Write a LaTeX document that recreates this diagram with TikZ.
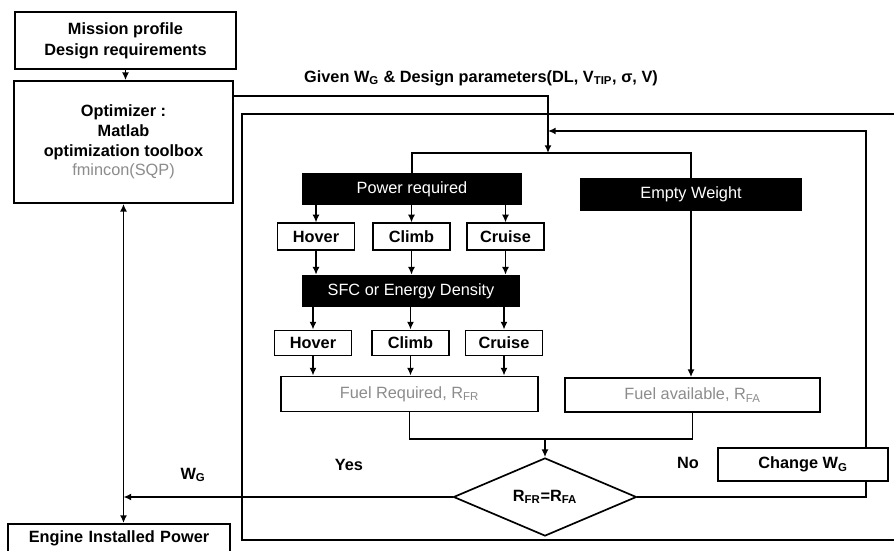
\documentclass[tikz,border=0pt]{standalone}
\usepackage{fontspec}
\setmainfont{Liberation Sans}
\usetikzlibrary{arrows.meta,positioning,shapes.geometric}

\begin{document}
\begin{tikzpicture}[
  font=\fontsize{11.6}{14}\selectfont\bfseries,
  >={Latex[length=5.5pt,width=5pt]},
  block/.style={rectangle, draw=black, line width=1.2pt, align=center, fill=white, inner sep=2pt},
  darkbox/.style={rectangle, fill=black, text=white, font=\fontsize{11.6}{14}\selectfont\mdseries,
                  minimum width=5.5cm, minimum height=0.8cm},
  phase/.style={block, minimum width=1.93cm, minimum height=0.66cm},
  fuel/.style={block, text=black!45, font=\fontsize{11.6}{14}\selectfont\mdseries, minimum height=0.88cm},
  decision/.style={diamond, draw=black, line width=1.2pt, minimum width=4.575cm,
                   minimum height=1.65cm, inner sep=0pt},
  arr/.style={->, line width=1.2pt},
  line/.style={line width=1.2pt}
]
\useasboundingbox (0,0) rectangle (22.35,13.775);
\clip (0,0) rectangle (22.35,13.775);

% Left column
\node[block, minimum width=5.525cm, minimum height=1.425cm] (mission) at (3.1375,12.7625)
  {Mission profile\\[1pt] Design requirements};
\node[block, minimum width=5.475cm, minimum height=3.05cm] (opt) at (3.0875,10.225)
  {Optimizer :\\ Matlab\\ optimization toolbox\\ {\mdseries\color{black!45}fmincon(SQP)}};
\node[block, anchor=north, text width=5.55cm, text height=0.475cm, text depth=0.7cm,
      inner sep=0pt] (engine) at (2.975,0.7) {Engine Installed Power};

% Sizing loop frame
\draw[line] (6.05,0.275) rectangle (22.8,10.925);
\node (given) at (12.025,11.825)
  {Given W\textsubscript{G} \& Design parameters(DL, V\textsubscript{TIP}, σ, V)};

% Power / fuel chain
\node[darkbox] (pr) at (10.3,9.05) {Power required};
\node[darkbox, minimum width=5.55cm, minimum height=0.825cm] (ew) at (17.275,8.9125) {Empty Weight};
\node[phase] (h1) at (7.9,7.8625) {Hover};
\node[phase] (c1) at (10.2875,7.8625) {Climb};
\node[phase] (r1) at (12.6375,7.8625) {Cruise};
\node[darkbox, minimum width=5.45cm] (sfc) at (10.275,6.5) {SFC or Energy Density};
\node[phase, minimum height=0.63cm] (h2) at (7.825,5.2) {Hover};
\node[phase, minimum height=0.63cm] (c2) at (10.2625,5.2) {Climb};
\node[phase, minimum height=0.63cm] (r2) at (12.6,5.2) {Cruise};
\node[fuel, minimum width=6.425cm] (fr) at (10.2375,3.925) {Fuel Required, R\textsubscript{FR}};
\node[fuel, minimum width=6.375cm, minimum height=0.85cm] (fa) at (17.3125,3.9) {Fuel available, R\textsubscript{FA}};
\node[decision] (eq) at (13.625,1.35) {R\textsubscript{FR}=R\textsubscript{FA}};
\node[block, minimum width=4.25cm, minimum height=0.825cm] (change) at (20.075,2.1625) {Change W\textsubscript{G}};

\node (yes) at (8.725,2.15) {Yes};
\node (no) at (17.2,2.2) {No};
\node (wg) at (4.825,1.9) {W\textsubscript{G}};

\coordinate (merge) at (13.7,9.95);
\coordinate (back) at (13.7,10.5);
\coordinate (join) at (13.625,2.8);
\coordinate (out) at (opt.south |- eq.west);

% Connectors
\draw[arr] (mission.south) -- (mission.south |- opt.north);
\draw[arr] ([yshift=-0.4cm]opt.north east) -| (merge);
\draw[line] (merge) -| (pr.north);
\draw[line] (merge) -| (ew.north);
\draw[arr] (ew.south) -- (ew.south |- fa.north);

\draw[arr] (h1.north |- pr.south) -- (h1.north);
\draw[arr] (c1.north |- pr.south) -- (c1.north);
\draw[arr] (r1.north |- pr.south) -- (r1.north);
\draw[arr] (h1.south) -- (h1.south |- sfc.north);
\draw[arr] (c1.south) -- (c1.south |- sfc.north);
\draw[arr] (r1.south) -- (r1.south |- sfc.north);
\draw[arr] (h2.north |- sfc.south) -- (h2.north);
\draw[arr] (c2.north |- sfc.south) -- (c2.north);
\draw[arr] (r2.north |- sfc.south) -- (r2.north);
\draw[arr] (h2.south) -- (h2.south |- fr.north);
\draw[arr] (c2.south) -- (c2.south |- fr.north);
\draw[arr] (r2.south) -- (r2.south |- fr.north);

\draw[line] (fr.south) |- (join);
\draw[line] (fa.south) |- (join);
\draw[arr] (join) -- (eq.north);

\draw[arr] (eq.west) -- (out);
\draw[arr] (out) -- (opt.south);
\draw[arr] (out) -- (out |- engine.north);

\draw[line] (eq.east) -| ([xshift=-0.575cm]change.south east);
\draw[arr] ([xshift=-0.575cm]change.north east) |- (back);

\end{tikzpicture}
\end{document}
